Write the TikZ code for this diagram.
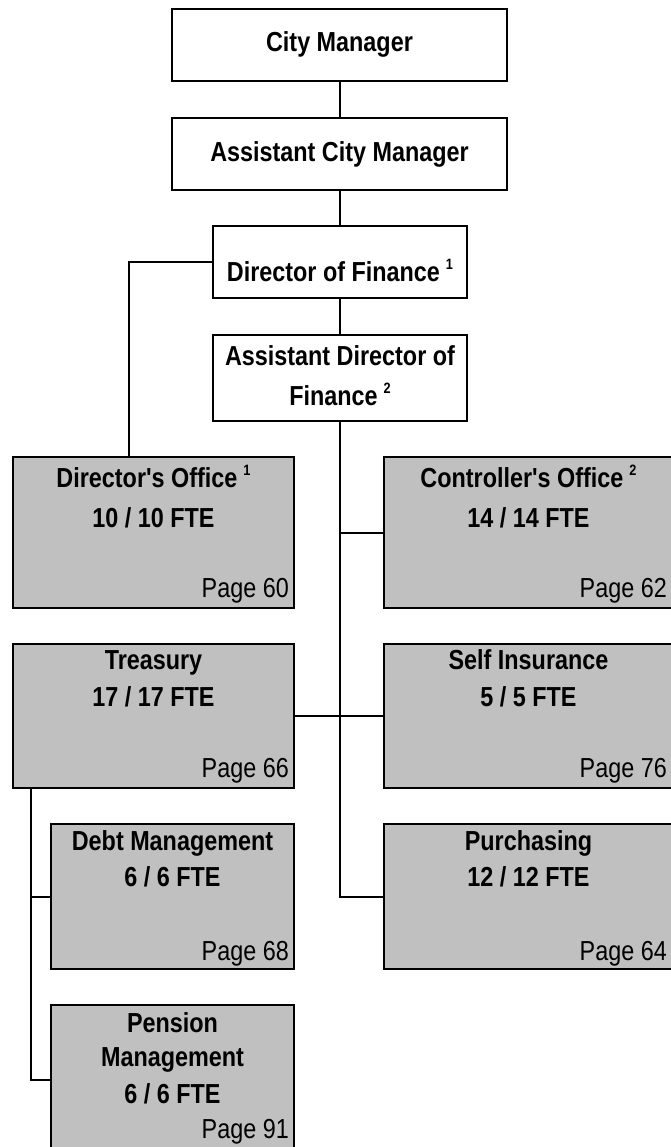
\documentclass[tikz,border=0pt]{standalone}
\usepackage{fontspec}
\newfontfamily\boxfont[FakeStretch=0.85]{Liberation Sans}
\usetikzlibrary{calc}

\newcommand\ttlfont{\boxfont\bfseries\fontsize{27.5}{27.5}\selectfont}
\newcommand\pgfont{\boxfont\fontsize{27.5}{27.5}\selectfont}
\newcommand\supnum[1]{\kern6pt\raisebox{12pt}{\fontsize{15}{15}\selectfont #1}}

\begin{document}
\begin{tikzpicture}[x=1pt,y=-1pt]
\definecolor{unitgray}{RGB}{192,192,192}
\tikzset{
  topbox/.style={draw, line width=2pt, fill=white, inner sep=0pt, anchor=north west},
  unitbox/.style={draw, line width=2pt, fill=unitgray, inner sep=0pt, anchor=north west},
  ttl/.style={font=\ttlfont, inner sep=0pt, anchor=base},
  pg/.style={font=\pgfont, inner sep=0pt, anchor=base east},
  link/.style={line width=2pt}
}
\useasboundingbox (0,0) rectangle (670,1147);

% management chain
\node[topbox, minimum width=335pt, minimum height=72pt] (cm) at (171,8) {};
\node[ttl] (cm-t) at ($(cm.north)+(0,44)$) {City Manager};

\node[topbox, minimum width=335pt, minimum height=72pt] (acm) at (171,117) {};
\node[ttl] (acm-t) at ($(acm.north)+(0,45)$) {Assistant City Manager};

\node[topbox, minimum width=254pt, minimum height=72pt] (dof) at (212,225) {};
\node[ttl] (dof-t) at ($(dof.north)+(0,57)$) {Director of Finance\supnum{1}};

\node[topbox, minimum width=254pt, minimum height=86pt] (adof) at (212,334) {};
\node[ttl] (adof-t1) at ($(adof.north)+(0,31)$) {Assistant Director of};
\node[ttl] (adof-t2) at ($(adof.north)+(0,71)$) {Finance\supnum{2}};

% divisions, left column
\node[unitbox, minimum width=281pt, minimum height=151pt] (dofc) at (12,456) {};
\node[ttl] (dofc-t1) at ($(dofc.north)+(0,31)$) {Director's Office\supnum{1}};
\node[ttl] (dofc-t2) at ($(dofc.north)+(0,71)$) {10 / 10 FTE};
\node[pg] (dofc-p) at ($(dofc.north east)+(-6,141)$) {Page 60};

\node[unitbox, minimum width=281pt, minimum height=144pt] (treas) at (12,643) {};
\node[ttl] (treas-t1) at ($(treas.north)+(0,26)$) {Treasury};
\node[ttl] (treas-t2) at ($(treas.north)+(0,63)$) {17 / 17 FTE};
\node[pg] (treas-p) at ($(treas.north east)+(-6,134)$) {Page 66};

\node[unitbox, minimum width=243pt, minimum height=145pt] (debt) at (50,823) {};
\node[ttl] (debt-t1) at ($(debt.north)+(0,27)$) {Debt Management};
\node[ttl] (debt-t2) at ($(debt.north)+(0,63)$) {6 / 6 FTE};
\node[pg] (debt-p) at ($(debt.north east)+(-6,137)$) {Page 68};

\node[unitbox, minimum width=243pt, minimum height=150pt] (pens) at (50,1004) {};
\node[ttl] (pens-t1) at ($(pens.north)+(0,28)$) {Pension};
\node[ttl] (pens-t2) at ($(pens.north)+(0,62)$) {Management};
\node[ttl] (pens-t3) at ($(pens.north)+(0,99)$) {6 / 6 FTE};
\node[pg] (pens-p) at ($(pens.north east)+(-6,134)$) {Page 91};

% divisions, right column
\node[unitbox, minimum width=289pt, minimum height=151pt] (ctrl) at (383,456) {};
\node[ttl] (ctrl-t1) at ($(ctrl.north)+(0,31)$) {Controller's Office\supnum{2}};
\node[ttl] (ctrl-t2) at ($(ctrl.north)+(0,71)$) {14 / 14 FTE};
\node[pg] (ctrl-p) at ($(ctrl.north east)+(-7,141)$) {Page 62};

\node[unitbox, minimum width=289pt, minimum height=144pt] (self) at (383,643) {};
\node[ttl] (self-t1) at ($(self.north)+(0,26)$) {Self Insurance};
\node[ttl] (self-t2) at ($(self.north)+(0,63)$) {5 / 5 FTE};
\node[pg] (self-p) at ($(self.north east)+(-7,134)$) {Page 76};

\node[unitbox, minimum width=289pt, minimum height=145pt] (purch) at (383,823) {};
\node[ttl] (purch-t1) at ($(purch.north)+(0,27)$) {Purchasing};
\node[ttl] (purch-t2) at ($(purch.north)+(0,63)$) {12 / 12 FTE};
\node[pg] (purch-p) at ($(purch.north east)+(-7,137)$) {Page 64};

% connectors
\coordinate (dofc-in) at ($(dofc.north west)+(117,0)$);
\coordinate (treas-out) at ($(treas.south west)+(19,0)$);

\draw[link] (cm.south) -- (acm.north);
\draw[link] (acm.south) -- (acm.south |- dof.north);
\draw[link] (dof.south) -- (adof.north);
\draw[link] (dof.west) -| (dofc-in);
\draw[link] (adof.south) |- (purch.west);
\draw[link] (adof.south |- ctrl.west) -- (ctrl.west);
\draw[link] (treas.east) -- (self.west);
\draw[link] (treas-out) |- (pens.west);
\draw[link] (treas-out |- debt.west) -- (debt.west);

\end{tikzpicture}
\end{document}
